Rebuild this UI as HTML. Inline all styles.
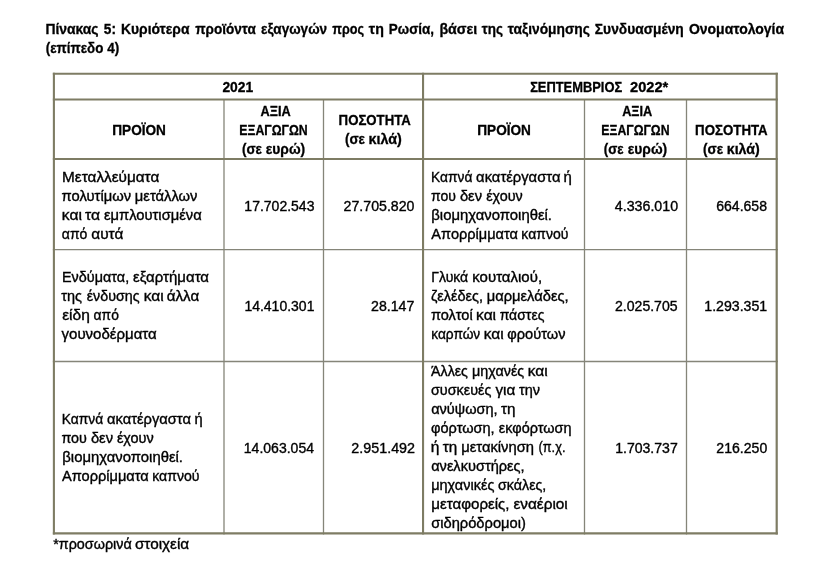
<!DOCTYPE html>
<html lang="el"><head><meta charset="utf-8"><title>Πίνακας 5</title><style>
html,body{margin:0;padding:0;background:#fff}
body{width:820px;height:571px;position:relative;overflow:hidden;font-family:"Liberation Sans",sans-serif;font-size:14px;line-height:19px;color:#000}
.t{display:inline-block;white-space:pre;transform-origin:0 50%}
.c,.title,.note{white-space:pre}
.title{position:absolute;left:45px;top:20px;margin:0;font-weight:700;white-space:nowrap}
.note{position:absolute;left:53px;top:535px;margin:0;white-space:nowrap}
table{position:absolute;left:53px;top:73px;border-collapse:separate;border-spacing:0;table-layout:fixed;width:725px;border-top:2px solid transparent;border-left:2px solid transparent}
th,td{box-sizing:border-box;padding:0;margin:0;font-weight:400;vertical-align:middle;border-right:1px solid transparent;border-bottom:1px solid transparent;overflow:visible}
th{font-weight:700;text-align:center;border-bottom-width:2px}
.m{border-right-width:2px}
tr.last td{border-bottom-width:2px}
td.p{text-align:left;padding-left:7px}
td.n{text-align:right;padding-right:8px}
tr.r1 td.n .c{top:2px}
td,.note{-webkit-text-stroke:0.35px #000}
th,.title{-webkit-text-stroke:0.3px #000}
.c{position:relative;top:1px}
tr.h2 th.low .c{top:11px}
tr.r3 td.p9 .c{top:0px;height:170px}
tr.r2 td.p .c{top:0}
td.c1,th.c1{border-right-width:2px}
.grid{position:absolute;left:0;top:0;width:820px;height:571px;pointer-events:none}
</style></head><body>
<p class="title"><span class="t" style="transform:translateX(0.41px) scaleX(0.9916)">Πίνακας</span> <span class="t" style="transform:translateX(0.80px) scaleX(0.9733)">5:</span> <span class="t" style="transform:translateX(1.97px) scaleX(0.9902)">Κυριότερα</span> <span class="t" style="transform:translateX(3.20px) scaleX(0.9676)">προϊόντα</span> <span class="t" style="transform:translateX(3.09px) scaleX(0.9657)">εξαγωγών</span> <span class="t" style="transform:translateX(1.37px) scaleX(0.9010)">προς</span> <span class="t" style="transform:translateX(-1.20px) scaleX(1.0141)">τη</span> <span class="t" style="transform:translateX(0.77px) scaleX(0.9618)">Ρωσία,</span> <span class="t" style="transform:translateX(0.40px) scaleX(1.0157)">βάσει</span> <span class="t" style="transform:translateX(0.74px) scaleX(0.9611)">της</span> <span class="t" style="transform:translateX(0.85px) scaleX(0.9833)">ταξινόμησης</span> <span class="t" style="transform:translateX(0.84px) scaleX(0.9841)">Συνδυασμένη</span> <span class="t" style="transform:translateX(0.91px) scaleX(0.9994)">Ονοματολογία</span><br><span class="t" style="transform:translateX(0.78px) scaleX(0.9542)">(επίπεδο</span> <span class="t" style="transform:translateX(-1.83px) scaleX(0.9634)">4)</span></p>
<svg class="grid" width="820" height="571" viewBox="0 0 820 571" aria-hidden="true">
<line x1="52.85" y1="249.55" x2="777.80" y2="249.55" stroke="#858579" stroke-width="1.3"/>
<line x1="52.85" y1="361.5" x2="777.80" y2="361.5" stroke="#858579" stroke-width="1.3"/>
<line x1="224.0" y1="99.4" x2="224.0" y2="534.55" stroke="#858579" stroke-width="1.3"/>
<line x1="323.5" y1="99.4" x2="323.5" y2="534.55" stroke="#858579" stroke-width="1.3"/>
<line x1="584.5" y1="99.4" x2="584.5" y2="534.55" stroke="#858579" stroke-width="1.3"/>
<line x1="686.5" y1="99.4" x2="686.5" y2="534.55" stroke="#858579" stroke-width="1.3"/>
<line x1="52.85" y1="73.7" x2="777.80" y2="73.7" stroke="#7e7c64" stroke-width="2.1"/>
<line x1="52.85" y1="99.4" x2="777.80" y2="99.4" stroke="#7e7c64" stroke-width="2.0"/>
<line x1="52.85" y1="158.9" x2="777.80" y2="158.9" stroke="#7e7c64" stroke-width="2.0"/>
<line x1="52.85" y1="533.45" x2="777.80" y2="533.45" stroke="#7e7c64" stroke-width="2.2"/>
<line x1="53.9" y1="72.65" x2="53.9" y2="534.55" stroke="#7e7c64" stroke-width="2.1"/>
<line x1="423.05" y1="72.65" x2="423.05" y2="534.55" stroke="#7e7c64" stroke-width="2.1"/>
<line x1="776.7" y1="72.65" x2="776.7" y2="534.55" stroke="#7e7c64" stroke-width="2.2"/>
</svg>
<table><colgroup><col style="width:170px"><col style="width:99px"><col style="width:100px"><col style="width:161px"><col style="width:102px"><col style="width:91px"></colgroup>
<tr class="h1" style="height:25px"><th class="m" colspan="3"><div class="c"><span class="t" style="transform:translateX(-0.57px) scaleX(0.9874)">2021</span></div></th><th class="m" colspan="3"><div class="c"><span class="t" style="transform:translateX(2.14px) scaleX(0.9195)">ΣΕΠΤΕΜΒΡΙΟΣ</span>  <span class="t" style="transform:translateX(-5.98px) scaleX(1.0437)">2022*</span></div></th></tr>
<tr class="h2" style="height:60px"><th class="c1"><div class="c"><span class="t" style="transform:translateX(1.24px) scaleX(0.9713)">ΠΡΟΪΟΝ</span></div></th><th class=""><div class="c"><span class="t" style="transform:translateX(3.60px) scaleX(0.9108)">ΑΞΙΑ</span><br><span class="t" style="transform:translateX(4.29px) scaleX(0.8779)">ΕΞΑΓΩΓΩΝ</span><br><span class="t" style="transform:translateX(-0.07px) scaleX(0.9584)">(σε</span> <span class="t" style="transform:translateX(-0.28px) scaleX(0.9877)">ευρώ)</span></div></th><th class="m"><div class="c"><span class="t" style="transform:translateX(3.59px) scaleX(0.9432)">ΠΟΣΟΤΗΤΑ</span><br><span class="t" style="transform:translateX(0.91px) scaleX(0.9607)">(σε</span> <span class="t" style="transform:translateX(-0.54px) scaleX(1.0243)">κιλά)</span></div></th><th class=""><div class="c"><span class="t" style="transform:translateX(1.24px) scaleX(0.9713)">ΠΡΟΪΟΝ</span></div></th><th class=""><div class="c"><span class="t" style="transform:translateX(3.13px) scaleX(0.9102)">ΑΞΙΑ</span><br><span class="t" style="transform:translateX(4.32px) scaleX(0.8764)">ΕΞΑΓΩΓΩΝ</span><br><span class="t" style="transform:translateX(0.83px) scaleX(0.9483)">(σε</span> <span class="t" style="transform:translateX(-0.27px) scaleX(0.9877)">ευρώ)</span></div></th><th class="m low"><div class="c"><span class="t" style="transform:translateX(2.09px) scaleX(0.9477)">ΠΟΣΟΤΗΤΑ</span><br><span class="t" style="transform:translateX(-0.01px) scaleX(0.9589)">(σε</span> <span class="t" style="transform:translateX(-1.24px) scaleX(1.0115)">κιλά)</span></div></th></tr>
<tr class="r1" style="height:90px"><td class="p c1"><div class="c"><span class="t" style="transform:translateX(0.09px) scaleX(1.0945)">Μεταλλεύματα</span><br><span class="t" style="transform:translateX(-0.39px) scaleX(1.0526)">πολυτίμων</span> <span class="t" style="transform:translateX(2.81px) scaleX(1.0537)">μετάλλων</span><br><span class="t" style="transform:translateX(-0.21px) scaleX(1.1175)">και</span> <span class="t" style="transform:translateX(0.97px) scaleX(1.1188)">τα</span> <span class="t" style="transform:translateX(2.90px) scaleX(1.0531)">εμπλουτισμένα</span><br><span class="t" style="transform:translateX(-0.14px) scaleX(1.0000)">από</span> <span class="t" style="transform:translateX(0.25px) scaleX(1.0973)">αυτά</span></div></td><td class="n"><div class="c"><span class="t" style="transform:translateX(-0.55px) scaleX(1.0000)">17.702.543</span></div></td><td class="n m"><div class="c"><span class="t" style="transform:translateX(-0.42px) scaleX(1.0113)">27.705.820</span></div></td><td class="p"><div class="c"><span class="t" style="transform:translateX(0.08px) scaleX(0.9826)">Καπνά</span> <span class="t" style="transform:translateX(-0.91px) scaleX(1.0559)">ακατέργαστα</span> <span class="t" style="transform:translateX(2.48px) scaleX(1.0688)">ή</span><br><span class="t" style="transform:translateX(0.02px) scaleX(1.0000)">που</span> <span class="t" style="transform:translateX(-0.08px) scaleX(1.0523)">δεν</span> <span class="t" style="transform:translateX(1.19px) scaleX(1.0265)">έχουν</span><br><span class="t" style="transform:translateX(0.29px) scaleX(1.0624)">βιομηχανοποιηθεί.</span><br><span class="t" style="transform:translateX(0.34px) scaleX(1.0395)">Απορρίμματα</span> <span class="t" style="transform:translateX(3.18px) scaleX(1.0000)">καπνού</span></div></td><td class="n"><div class="c"><span class="t" style="transform:translateX(-1.20px) scaleX(1.0158)">4.336.010</span></div></td><td class="n m"><div class="c"><span class="t" style="transform:translateX(-0.76px) scaleX(1.0028)">664.658</span></div></td></tr>
<tr class="r2" style="height:112px"><td class="p c1"><div class="c"><span class="t" style="transform:translateX(0.02px) scaleX(1.0286)">Ενδύματα,</span> <span class="t" style="transform:translateX(2.09px) scaleX(1.0708)">εξαρτήματα</span><br><span class="t" style="transform:translateX(-0.65px) scaleX(1.0344)">της</span> <span class="t" style="transform:translateX(0.70px) scaleX(1.0200)">ένδυσης</span> <span class="t" style="transform:translateX(1.63px) scaleX(1.1081)">και</span> <span class="t" style="transform:translateX(2.76px) scaleX(1.0814)">άλλα</span><br><span class="t" style="transform:translateX(0.13px) scaleX(1.1107)">είδη</span> <span class="t" style="transform:translateX(2.58px) scaleX(0.9883)">από</span><br><span class="t" style="transform:translateX(-0.44px) scaleX(1.0718)">γουνοδέρματα</span></div></td><td class="n"><div class="c"><span class="t" style="transform:translateX(-0.62px) scaleX(0.9995)">14.410.301</span></div></td><td class="n m"><div class="c"><span class="t" style="transform:translateX(0.05px) scaleX(1.0111)">28.147</span></div></td><td class="p"><div class="c"><span class="t" style="transform:translateX(0.24px) scaleX(1.0000)">Γλυκά</span> <span class="t" style="transform:translateX(0.31px) scaleX(1.0707)">κουταλιού,</span><br><span class="t" style="transform:translateX(-0.09px) scaleX(1.0348)">ζελέδες,</span> <span class="t" style="transform:translateX(1.65px) scaleX(1.0515)">μαρμελάδες,</span><br><span class="t" style="transform:translateX(-0.12px) scaleX(1.0392)">πολτοί</span> <span class="t" style="transform:translateX(1.08px) scaleX(1.1085)">και</span> <span class="t" style="transform:translateX(2.60px) scaleX(1.0000)">πάστες</span><br><span class="t" style="transform:translateX(0.23px) scaleX(0.9781)">καρπών</span> <span class="t" style="transform:translateX(-1.23px) scaleX(1.1049)">και</span> <span class="t" style="transform:translateX(0.25px) scaleX(1.0437)">φρούτων</span></div></td><td class="n"><div class="c"><span class="t" style="transform:translateX(-0.99px) scaleX(1.0046)">2.025.705</span></div></td><td class="n m"><div class="c"><span class="t" style="transform:translateX(-1.73px) scaleX(1.0098)">1.293.351</span></div></td></tr>
<tr class="r3 last" style="height:172px"><td class="p c1"><div class="c"><span class="t" style="transform:translateX(-0.24px) scaleX(0.9860)">Καπνά</span> <span class="t" style="transform:translateX(-1.05px) scaleX(1.0512)">ακατέργαστα</span> <span class="t" style="transform:translateX(2.41px) scaleX(1.0485)">ή</span><br><span class="t" style="transform:translateX(-0.55px) scaleX(1.0215)">που</span> <span class="t" style="transform:translateX(-0.08px) scaleX(1.0523)">δεν</span> <span class="t" style="transform:translateX(0.88px) scaleX(1.0337)">έχουν</span><br><span class="t" style="transform:translateX(0.29px) scaleX(1.0624)">βιομηχανοποιηθεί.</span><br><span class="t" style="transform:translateX(-0.05px) scaleX(1.0425)">Απορρίμματα</span> <span class="t" style="transform:translateX(3.16px) scaleX(1.0071)">καπνού</span></div></td><td class="n"><div class="c"><span class="t" style="transform:translateX(-1.18px) scaleX(1.0012)">14.063.054</span></div></td><td class="n m"><div class="c"><span class="t" style="transform:translateX(-0.64px) scaleX(1.0217)">2.951.492</span></div></td><td class="p p9"><div class="c"><span class="t" style="transform:translateX(0.08px) scaleX(1.0150)">Άλλες</span> <span class="t" style="transform:translateX(1.07px) scaleX(1.0242)">μηχανές</span> <span class="t" style="transform:translateX(1.65px) scaleX(1.1077)">και</span><br><span class="t" style="transform:translateX(-0.02px) scaleX(1.0263)">συσκευές</span> <span class="t" style="transform:translateX(1.45px) scaleX(1.0917)">για</span> <span class="t" style="transform:translateX(3.01px) scaleX(1.0365)">την</span><br><span class="t" style="transform:translateX(0.18px) scaleX(1.0386)">ανύψωση,</span> <span class="t" style="transform:translateX(2.10px) scaleX(1.0878)">τη</span><br><span class="t" style="transform:translateX(0.07px) scaleX(1.0390)">φόρτωση,</span> <span class="t" style="transform:translateX(2.78px) scaleX(1.0326)">εκφόρτωση</span><br><span class="t" style="transform:translateX(-0.29px) scaleX(1.1096)">ή</span> <span class="t" style="transform:translateX(-0.29px) scaleX(1.0841)">τη</span> <span class="t" style="transform:translateX(1.18px) scaleX(1.0555)">μετακίνηση</span> <span class="t" style="transform:translateX(5.45px) scaleX(0.9172)">(π.χ.</span><br><span class="t" style="transform:translateX(0.16px) scaleX(1.0412)">ανελκυστήρες,</span><br><span class="t" style="transform:translateX(0.20px) scaleX(1.0353)">μηχανικές</span> <span class="t" style="transform:translateX(2.05px) scaleX(1.0177)">σκάλες,</span><br><span class="t" style="transform:translateX(0.31px) scaleX(1.0782)">μεταφορείς,</span> <span class="t" style="transform:translateX(6.39px) scaleX(1.0974)">εναέριοι</span><br><span class="t" style="transform:translateX(0.14px) scaleX(1.0498)">σιδηρόδρομοι)</span></div></td><td class="n"><div class="c"><span class="t" style="transform:translateX(-0.84px) scaleX(1.0044)">1.703.737</span></div></td><td class="n m"><div class="c"><span class="t" style="transform:translateX(-0.63px) scaleX(1.0050)">216.250</span></div></td></tr>
</table>
<p class="note"><span class="t" style="transform:translateX(0.17px) scaleX(1.0263)">*προσωρινά</span> <span class="t" style="transform:translateX(0.88px) scaleX(1.0935)">στοιχεία</span></p>
</body></html>
